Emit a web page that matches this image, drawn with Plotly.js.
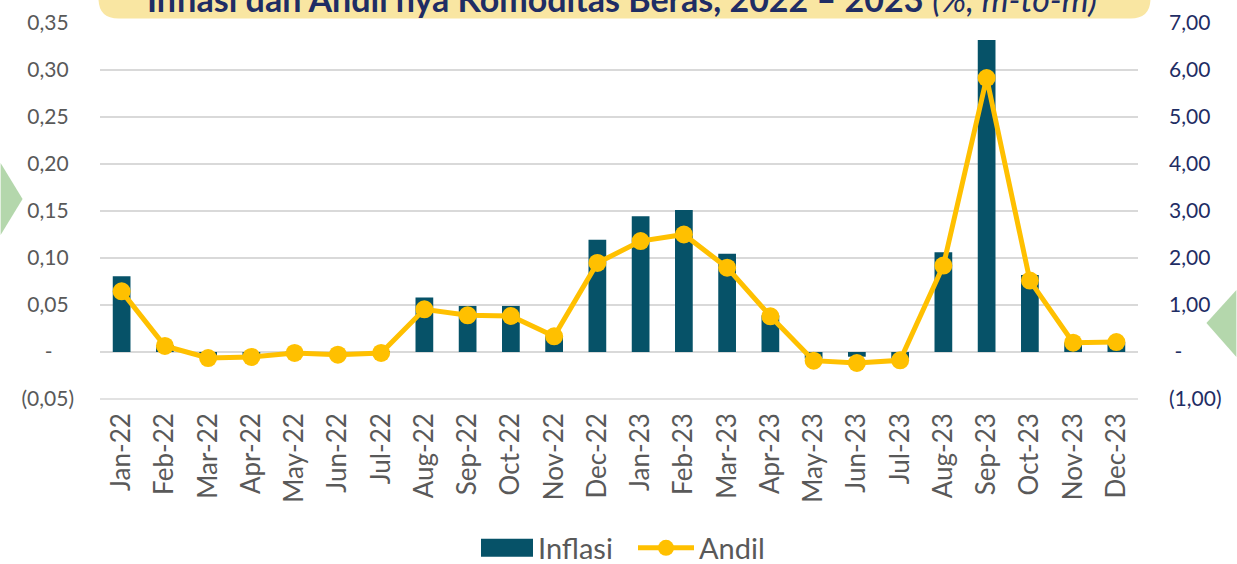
<!DOCTYPE html>
<html>
<head>
<meta charset="utf-8">
<script src="https://cdn.plot.ly/plotly-3.0.1.min.js"></script>
<style>
  html, body { margin: 0; padding: 0; background: #ffffff; }
  #chart { width: 1237px; height: 564px; }
</style>
</head>
<body>
<div id="chart"></div>
<script>
// ---- data ----
const months = ["Jan-22","Feb-22","Mar-22","Apr-22","May-22","Jun-22","Jul-22","Aug-22","Sep-22","Oct-22","Nov-22","Dec-22",
                "Jan-23","Feb-23","Mar-23","Apr-23","May-23","Jun-23","Jul-23","Aug-23","Sep-23","Oct-23","Nov-23","Dec-23"];
const inflasi = [1.61, 0.15, -0.12, -0.10, 0.02, -0.05, 0.02, 1.16, 0.98, 0.98, 0.35, 2.39,
                 2.89, 3.02, 2.09, 0.78, -0.14, -0.10, -0.14, 2.12, 6.64, 1.64, 0.20, 0.21];
const andil = [0.0645, 0.0064, -0.0064, -0.0053, -0.0010, -0.0028, -0.0010, 0.0454, 0.0390, 0.0383, 0.0167, 0.0947,
               0.1180, 0.1250, 0.0897, 0.0380, -0.0092, -0.0117, -0.0089, 0.0920, 0.2915, 0.0760, 0.0099, 0.0106];
const leftTickVals = [-0.05, 0, 0.05, 0.10, 0.15, 0.20, 0.25, 0.30, 0.35];
const leftTickText = ["(0,05)", "-\u00a0\u00a0\u00a0\u00a0", "0,05\u00a0", "0,10\u00a0", "0,15\u00a0", "0,20\u00a0", "0,25\u00a0", "0,30\u00a0", "0,35\u00a0"];
const rightTickVals = [-1, 0, 1, 2, 3, 4, 5, 6, 7];
const rightTickText = ["(1,00)", "\u00a0-", "1,00", "2,00", "3,00", "4,00", "5,00", "6,00", "7,00"];
const titleText = "<b>Inflasi dan Andil nya Komoditas Beras, 2022 – 2023</b> <i>(%, m-to-m)</i>";

// ---- layout helpers (plot area in pixels) ----
const W = 1237, H = 564;
const mL = 99.5, mR = 98.5, mT = 23, mB = 165;
const pw = W - mL - mR, ph = H - mT - mB;
const px = x => (x - mL) / pw;          // pixel x -> paper x
const py = y => (H - mB - y) / ph;      // pixel y -> paper y

// title box (rounded bottom corners)
const bx0 = px(98), bx1 = px(1151), by0 = py(-30), by1 = py(18.5);
const rx = 20 / pw, ry = 20 / ph;
const boxPath = `M ${bx0},${by0} L ${bx0},${by1 + ry} Q ${bx0},${by1} ${bx0 + rx},${by1} ` +
                `L ${bx1 - rx},${by1} Q ${bx1},${by1} ${bx1},${by1 + ry} L ${bx1},${by0} Z`;
const triL = `M ${px(0)},${py(163)} L ${px(22)},${py(199)} L ${px(0)},${py(235)} Z`;
const triR = `M ${px(1237)},${py(290)} L ${px(1207)},${py(323)} L ${px(1237)},${py(357)} Z`;
const gridBottom = `M 0,0 L 1,0`;

const FONT = "Lato, 'Open Sans', sans-serif";

const traces = [
  {
    type: "bar", name: "Inflasi", x: months, y: inflasi, yaxis: "y",
    marker: { color: "#065268" }, hoverinfo: "x+y"
  },
  {
    type: "scatter", mode: "lines+markers", name: "Andil", x: months, y: andil, yaxis: "y2",
    line: { color: "#FFC000", width: 5 },
    marker: { color: "#FFC000", size: 18 }, cliponaxis: false
  }
];

const layout = {
  width: W, height: H,
  margin: { l: mL, r: mR, t: mT, b: mB, pad: 0 },
  paper_bgcolor: "#ffffff", plot_bgcolor: "#ffffff",
  font: { family: FONT, color: "#595959" },
  bargap: 0.59,
  showlegend: true,
  legend: {
    orientation: "h", xref: "container", yref: "container",
    x: 633 / W, xanchor: "center", y: 1 - 548 / H, yanchor: "middle",
    font: { family: FONT, size: 29, color: "#595959" }, traceorder: "normal",
    itemwidth: 56, entrywidth: 90
  },
  xaxis: {
    type: "category", range: [-0.5, 23.5], automargin: false, tickangle: -90,
    showgrid: false, showline: false, zeroline: false,
    ticks: "", tickfont: { family: FONT, size: 26, color: "#595959" }, ticklabelstandoff: 8,
    fixedrange: true
  },
  yaxis: {
    side: "right", range: [-1, 7], automargin: false, tickvals: rightTickVals, ticktext: rightTickText,
    showgrid: true, gridcolor: "#d9d9d9", gridwidth: 1.5, zeroline: false, showline: false,
    ticks: "", tickfont: { family: FONT, size: 21, color: "#1F2D64" }, ticklabelstandoff: 30
  },
  yaxis2: {
    side: "left", overlaying: "y", range: [-0.05, 0.35], automargin: false,
    tickvals: leftTickVals, ticktext: leftTickText,
    showgrid: false, zeroline: false, showline: false,
    ticks: "", tickfont: { family: FONT, size: 21, color: "#595959" }, ticklabelstandoff: 25
  },
  shapes: [
    { type: "path", xref: "paper", yref: "paper", path: gridBottom, line: { color: "#d9d9d9", width: 1.5 }, layer: "below" },
    { type: "path", xref: "paper", yref: "paper", path: boxPath, fillcolor: "#F9E6A2", line: { width: 0 }, layer: "above" },
    { type: "path", xref: "paper", yref: "paper", path: triL, fillcolor: "#B4D7AC", line: { width: 0 }, layer: "above" },
    { type: "path", xref: "paper", yref: "paper", path: triR, fillcolor: "#B4D7AC", line: { width: 0 }, layer: "above" }
  ],
  annotations: [
    {
      xref: "paper", yref: "paper", x: px(622), y: py(21), xanchor: "center", yanchor: "bottom",
      text: titleText, showarrow: false,
      font: { family: FONT, size: 34, color: "#1F2D64" }
    }
  ]
};

Plotly.newPlot("chart", traces, layout, { displayModeBar: false, staticPlot: true }).then(gd => {
  // widen the bar legend swatch to look like a wide rectangle
  gd.querySelectorAll(".legend path").forEach(p => {
    const d = (p.getAttribute("d") || "").replace(/\s/g, "");
    if (d === "M6,6H-6V-6H6Z") p.setAttribute("d", "M28,9H-24V-9H28Z");
  });
});
</script>
</body>
</html>
